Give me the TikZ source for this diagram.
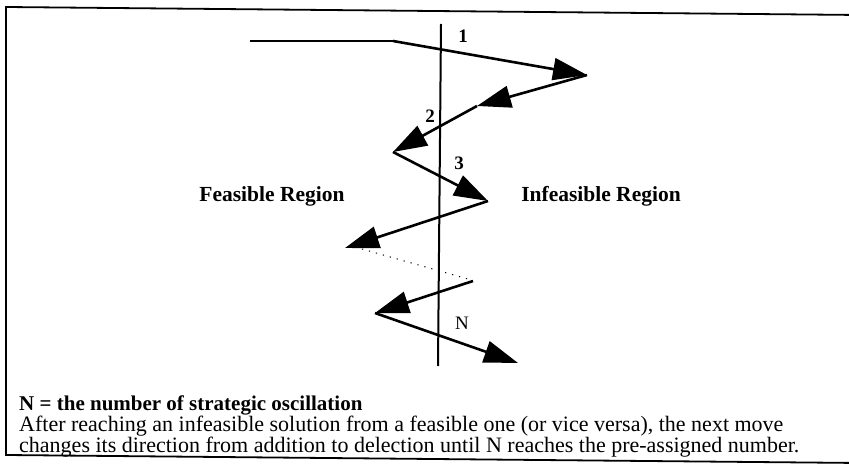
\documentclass[tikz,border=0pt]{standalone}
\usepackage{fontspec}
\setmainfont{Liberation Serif}
\usetikzlibrary{arrows.meta,positioning}

\begin{document}
\begin{tikzpicture}[x=1pt, y=-1pt,
  move/.style={line width=2.6pt, -{Triangle[length=34pt,width=22pt]}},
  step label/.style={font=\fontsize{19}{19}\selectfont\bfseries, inner sep=0pt},
  region/.style={font=\fontsize{21.5}{21.5}\selectfont\bfseries, inner sep=0pt},
  note/.style={anchor=base west, inner sep=0pt, font=\fontsize{22}{22}\selectfont}]
  \useasboundingbox (0,0) rectangle (849,470);

  % frame
  \draw[line width=1.8pt] (860,15) -- (6,7) -- (6,455) -- (860,463);

  % boundary between the regions
  \coordinate (top) at (441,24);
  \coordinate (bot) at (438,366);
  \draw[line width=2pt] (top) -- (bot);

  \coordinate (s0) at (250,41);
  \coordinate (s1) at (393,41);
  \coordinate (p1) at (587,75);
  \coordinate (p2) at (477,106);
  \coordinate (p3) at (393,152);
  \coordinate (p4) at (488,201);
  \coordinate (p5) at (345,248);
  \coordinate (d0) at (362,249);
  \coordinate (d1) at (468,279);
  \coordinate (q0) at (473,281);
  \coordinate (q1) at (375,313);
  \coordinate (q2) at (518,363);

  \draw[line width=2.6pt] (s0) -- (s1);
  \draw[move] (s1) -- (p1);
  \draw[move] (p1) -- (p2);
  \draw[move] (p2) -- (p3);
  \draw[move] (p3) -- (p4);
  \draw[move] (p4) -- (p5);
  \draw[line width=1pt, dash pattern=on 1.2pt off 6pt] (d0) -- (d1);
  \draw[move] (q0) -- (q1);
  \draw[move] (q1) -- (q2);

  \node[step label] (n1) at (463,36) {1};
  \node[step label] (n2) at (430,116) {2};
  \node[step label] (n3) at (459,163) {3};
  \node[step label, font=\fontsize{19}{19}\selectfont] (nN) at (462,323) {N};

  \node[region] (feas) at (272,196) {Feasible Region};
  \node[region] (infeas) at (601,196) {Infeasible Region};

  % explanation
  \node[note, font=\fontsize{21}{21}\selectfont\bfseries] (head) at (19,410)
    {N = the number of strategic oscillation};
  \node[note] (line1) at (19,431)
    {After reaching an infeasible solution from a feasible one (or vice versa), the next move};
  \node[note] (line2) at (19,452)
    {changes its direction from addition to delection until N reaches the pre-assigned number.};
\end{tikzpicture}
\end{document}
